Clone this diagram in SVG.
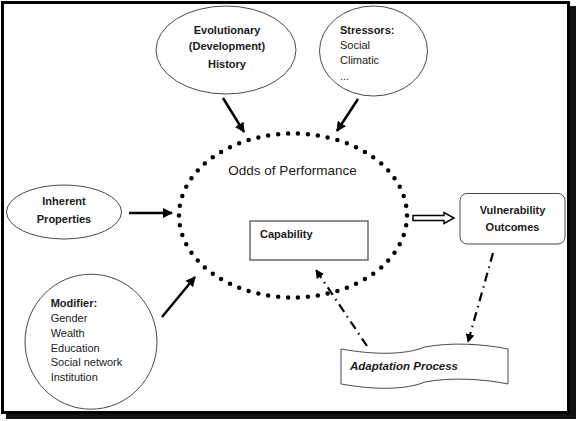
<svg xmlns="http://www.w3.org/2000/svg" width="577" height="421" viewBox="0 0 577 421">
<style>
  text { font-family: "Liberation Sans", Arial, sans-serif; fill: #1a1a1a; }
  .b { font-weight: bold; font-size: 11px; }
  .r { font-size: 11px; }
  .shape { fill: #ffffff; stroke: #4a4a4a; stroke-width: 1; }
  .arr { stroke: #000; stroke-width: 2.5; fill: none; marker-end: url(#ah); }
  .dd { stroke: #000; stroke-width: 2.2; fill: none; stroke-dasharray: 9 5 1.5 5; marker-end: url(#ah); }
</style>
<defs>
  <marker id="ah" viewBox="0 0 10 10" refX="9" refY="5" markerWidth="4" markerHeight="4" orient="auto" markerUnits="strokeWidth">
    <path d="M0,0 L10,5 L0,10 z" fill="#000"/>
  </marker>
</defs>
<rect x="0" y="0" width="577" height="421" fill="#ffffff"/>
<!-- frame -->
<g id="frame">
  <rect x="6" y="6" width="570" height="413" fill="#111"/>
  <rect x="2.5" y="2.5" width="566" height="410" fill="#ffffff" stroke="#000" stroke-width="3"/>
</g>

<g id="connectors">
  <line class="arr" x1="223" y1="98" x2="244" y2="132"/>
  <line class="arr" x1="358" y1="99" x2="337" y2="131"/>
  <line class="arr" x1="129" y1="213" x2="172" y2="213"/>
  <line class="arr" x1="162" y1="317" x2="195" y2="277"/>
  <path d="M413,215.5 L444,215.5 L444,212.5 L454,218 L444,223.5 L444,220.5 L413,220.5 Z" fill="#fff" stroke="#000" stroke-width="1.5"/>
  <line class="dd" x1="493" y1="253" x2="468" y2="342"/>
  <line class="dd" x1="367" y1="346" x2="316" y2="270"/>
</g>

<g id="odds">
  <ellipse cx="293" cy="215.5" rx="114" ry="82" fill="none" stroke="#000" stroke-width="4.5" stroke-linecap="round" stroke-dasharray="0 1" pathLength="62"/>
  <text x="292.5" y="175" font-size="13.5" text-anchor="middle">Odds of Performance</text>
</g>

<g id="evolutionary">
  <ellipse class="shape" cx="226" cy="50" rx="70" ry="44"/>
  <text class="b" x="227" y="34" text-anchor="middle">Evolutionary</text>
  <text class="b" x="227" y="50" text-anchor="middle">(Development)</text>
  <text class="b" x="227" y="68" text-anchor="middle">History</text>
</g>

<g id="stressors">
  <ellipse class="shape" cx="373.5" cy="51" rx="54" ry="45"/>
  <text class="b" x="340" y="33.5" font-size="10.5">Stressors:</text>
  <text class="r" x="340" y="49">Social</text>
  <text class="r" x="340" y="64">Climatic</text>
  <text class="r" x="340" y="80" font-size="8">...</text>
</g>

<g id="inherent">
  <ellipse class="shape" cx="64" cy="212" rx="57.5" ry="27"/>
  <text class="b" x="64" y="205" text-anchor="middle" font-size="11.5">Inherent</text>
  <text class="b" x="64" y="222.5" text-anchor="middle" font-size="11.5">Properties</text>
</g>

<g id="modifier">
  <ellipse class="shape" cx="91" cy="341.7" rx="66" ry="67.5"/>
  <text class="b" x="50.7" y="307">Modifier:</text>
  <text class="r" x="50.7" y="322">Gender</text>
  <text class="r" x="50.7" y="337">Wealth</text>
  <text class="r" x="50.7" y="351.5">Education</text>
  <text class="r" x="50.7" y="366">Social network</text>
  <text class="r" x="50.7" y="380.5">Institution</text>
</g>

<g id="capability">
  <rect x="250" y="221" width="118" height="39" fill="#fff" stroke="#444" stroke-width="1.2"/>
  <text class="b" x="260" y="237.5" font-size="11.5">Capability</text>
</g>

<g id="vulnerability">
  <rect x="460" y="193.5" width="105" height="50.5" rx="7" ry="7" class="shape"/>
  <text class="b" x="512.5" y="213.5" text-anchor="middle" font-size="12">Vulnerability</text>
  <text class="b" x="512.5" y="230.5" text-anchor="middle" font-size="12">Outcomes</text>
</g>

<g id="adaptation">
  <path class="shape" d="M341,349 C375,355 405,355 425,347 C450,342 485,344 508,349 L508,384 C485,379 450,377 425,382 C405,390 375,390 341,384 Z"/>
  <text x="350" y="369.5" font-size="11.5" font-weight="bold" font-style="italic">Adaptation Process</text>
</g>
</svg>
